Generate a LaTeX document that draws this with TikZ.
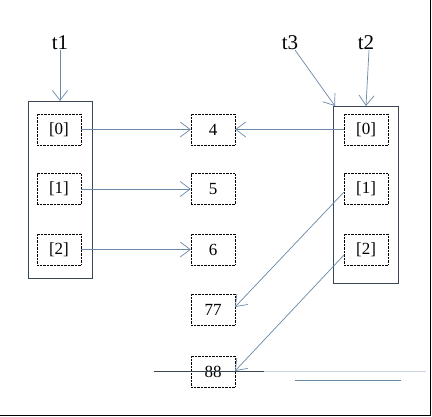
\documentclass[tikz,border=0pt]{standalone}
\usepackage{fontspec}
\setmainfont{Liberation Serif}
\usetikzlibrary{arrows.meta}
\definecolor{arr}{HTML}{6A88A8}
\definecolor{boxc}{HTML}{3A4656}
\tikzset{
  cell/.style={draw=black, densely dotted, minimum width=44pt, minimum height=31pt, inner sep=0pt, font=\fontsize{17}{17}\selectfont},
  frame/.style={draw=boxc, line width=0.9pt},
  lab/.style={font=\fontsize{21}{21}\selectfont, inner sep=0pt},
  ptr/.style={draw=arr, line width=0.7pt, -{Straight Barb[length=10pt,width=15pt,line width=0.7pt]}},
}
\begin{document}
\begin{tikzpicture}[x=1pt,y=-1pt]
\useasboundingbox (0,0) rectangle (432,416);
\fill[white] (0,0) rectangle (432,416);
% frames
\draw[black, line width=1pt] (430,0) -- (430,415) -- (0,415);
\node[frame, minimum width=64pt, minimum height=177pt, inner sep=0pt] (L) at (60,189.5) {};
\node[frame, minimum width=65pt, minimum height=177pt, inner sep=0pt] (R) at (365.5,194.5) {};
% left cells
\node[cell] (l0) at (59,129.5) {[0]};
\node[cell] (l1) at (59,189) {[1]};
\node[cell] (l2) at (59,249.5) {[2]};
% right cells
\node[cell] (r0) at (366,129.5) {[0]};
\node[cell] (r1) at (366,189) {[1]};
\node[cell] (r2) at (366,249.5) {[2]};
% value cells
\node[cell] (v4) at (213,129.5) {4};
\node[cell] (v5) at (213,189) {5};
\node[cell] (v6) at (213,249.5) {6};
\node[cell] (v77) at (213,309.5) {77};
\node[cell] (v88) at (213,371.5) {88};
% labels
\node[lab] (t1) at (60,43) {t1};
\node[lab] (t3) at (290,43) {t3};
\node[lab] (t2) at (366,43) {t2};
\coordinate (t1a) at (60,101);
\coordinate (t3a) at (335,106);
\coordinate (t2a) at (366,106);
\draw[ptr] (t1) -- (t1a);
\draw[ptr] (t3) -- (t3a);
\draw[ptr] (t2.south) ++(3,0) -- (t2a);
% pointers
\draw[ptr] (l0.east) -- (v4.west);
\draw[ptr] (l1.east) -- (v5.west);
\draw[ptr] (l2.east) -- (v6.west);
\draw[ptr] (r0.west) -- (v4.east);
\coordinate (r1s) at (344,192);
\coordinate (v77e) at (235,307);
\coordinate (r2s) at (344,255);
\coordinate (v88e) at (235,371);
\draw[ptr] (r1s) -- (v77e);
\draw[ptr] (r2s) -- (v88e);
% stray lines
\coordinate (h1) at (154,371);
\coordinate (h2) at (264,371);
\coordinate (h3) at (426,371);
\coordinate (h4) at (295,380);
\coordinate (h5) at (401,380);
\draw[boxc, line width=0.8pt] (h1) -- (h2);
\draw[arr!35, line width=0.6pt] (h2) -- (h3);
\draw[arr, line width=1pt] (h4) -- (h5);
\end{tikzpicture}
\end{document}
